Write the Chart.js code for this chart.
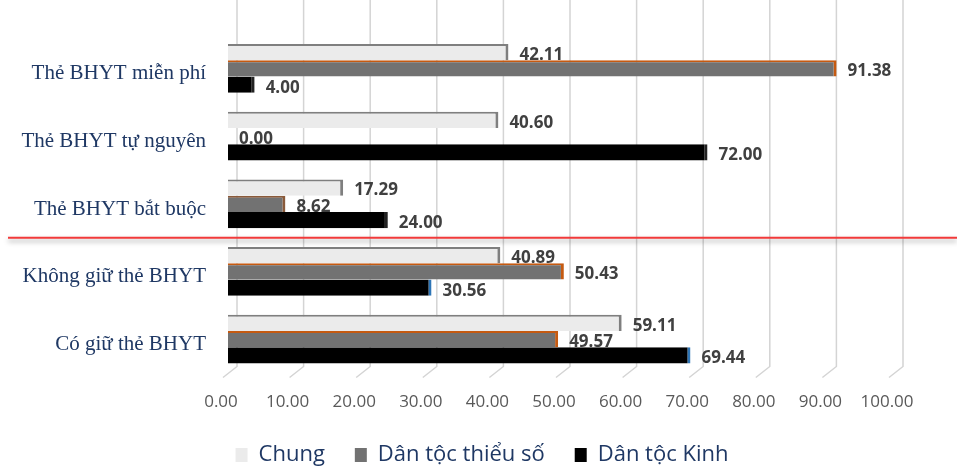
<!DOCTYPE html>
<html><head><meta charset="utf-8">
<script src="https://cdn.jsdelivr.net/npm/chart.js@4.4.0/dist/chart.umd.min.js"></script>
<style>html,body{margin:0;padding:0;background:#fff;}#wrap{width:957px;height:467px;position:relative}</style>
</head><body><div id="wrap"><canvas id="c" width="957" height="467"></canvas></div>
<script>
// ---- data ----
const categories = ["Thẻ BHYT miễn phí", "Thẻ BHYT tự nguyên", "Thẻ BHYT bắt buộc", "Không giữ thẻ BHYT", "Có giữ thẻ BHYT"];
const seriesNames = ["Chung", "Dân tộc thiểu số", "Dân tộc Kinh"];
const chung   = [42.11, 40.60, 17.29, 40.89, 59.11];
const thieuSo = [91.38, 0.00, 8.62, 50.43, 49.57];
const kinh    = [4.00, 72.00, 24.00, 30.56, 69.44];
const xTicks  = [0, 10, 20, 30, 40, 50, 60, 70, 80, 90, 100];

// ---- styles ----
const fillColors = ["#ebebeb", "#727272", "#000000"];
const thieuSoEdge = ["#c55a11", "#5a5a5a", "#8a5a3a", "#c55a11", "#c55a11"];
const kinhEdge = ["#222222", "#222222", "#222222", "#2e75b6", "#2e75b6"];
const navy = "#1f3864";

const gridPlugin = {
  id: 'grid3d',
  beforeDatasetsDraw(chart) {
    const {ctx, chartArea, scales} = chart;
    ctx.save();
    ctx.strokeStyle = '#d4d4d4';
    ctx.lineWidth = 1.5;
    xTicks.forEach(v => {
      const px = scales.x.getPixelForValue(v) + 9;
      const yb = chartArea.bottom - 6.5;
      ctx.beginPath();
      ctx.moveTo(px, 0);
      ctx.lineTo(px, yb);
      ctx.lineTo(px - 14, yb + 11);
      ctx.stroke();
    });
    ctx.restore();
  }
};

const labelPlugin = {
  id: 'valueLabels',
  afterDatasetsDraw(chart) {
    const {ctx} = chart;
    ctx.save();
    ctx.font = 'bold 17px "Open Sans"';
    ctx.fillStyle = '#404040';
    ctx.textAlign = 'left';
    ctx.textBaseline = 'middle';
    chart.data.datasets.forEach((ds, di) => {
      const meta = chart.getDatasetMeta(di);
      meta.data.forEach((el, i) => {
        ctx.fillText(ds.data[i].toFixed(2), el.x + 11, el.y + 3);
      });
    });
    ctx.restore();
  }
};

const redLinePlugin = {
  id: 'redLine',
  afterDraw(chart) {
    const {ctx, scales} = chart;
    const y = (scales.y.getPixelForValue(2) + scales.y.getPixelForValue(3)) / 2;
    ctx.save();
    ctx.shadowColor = 'rgba(0,0,0,0.35)';
    ctx.shadowBlur = 5;
    ctx.shadowOffsetY = 3;
    ctx.strokeStyle = '#f23a3a';
    ctx.lineWidth = 2;
    ctx.beginPath();
    ctx.moveTo(8, y);
    ctx.lineTo(957, y);
    ctx.stroke();
    ctx.restore();
  }
};

new Chart(document.getElementById('c'), {
  type: 'bar',
  data: {
    labels: categories,
    datasets: [
      { label: seriesNames[0], data: chung, backgroundColor: fillColors[0],
        borderColor: '#7f7f7f', borderWidth: {top: 2, right: 3, bottom: 0, left: 0}, borderSkipped: false },
      { label: seriesNames[1], data: thieuSo, backgroundColor: fillColors[1],
        borderColor: thieuSoEdge, borderWidth: {top: 2, right: 3, bottom: 0, left: 0}, borderSkipped: false },
      { label: seriesNames[2], data: kinh, backgroundColor: fillColors[2],
        borderColor: kinhEdge, borderWidth: {top: 0, right: 3, bottom: 0, left: 0}, borderSkipped: false }
    ]
  },
  options: {
    indexAxis: 'y',
    responsive: false,
    animation: false,
    devicePixelRatio: 1,
    layout: { padding: { top: 33, right: 0, bottom: -9, left: 7 } },
    datasets: { bar: { categoryPercentage: 0.72, barPercentage: 1.0 } },
    scales: {
      x: {
        min: 0, max: 100,
        grid: { display: false, drawTicks: false },
        border: { display: false },
        ticks: {
          stepSize: 10, maxRotation: 0, autoSkip: false,
          callback: v => Number(v).toFixed(2),
          color: '#595959', font: { family: 'Open Sans', size: 17 },
          padding: 19, labelOffset: -7
        },
        afterFit(s) { s.height = 41; }
      },
      y: {
        grid: { display: false, drawTicks: false },
        border: { display: false },
        ticks: {
          color: navy, font: { family: '"Liberation Serif", "Times New Roman", serif', size: 21 },
          padding: 22, labelOffset: 5.5
        },
        afterFit(s) { s.width = 221; }
      },
      yRight: {
        type: 'category',
        position: 'right',
        grid: { display: false, drawTicks: false },
        border: { display: false },
        ticks: { display: false },
        afterFit(s) { s.width = 63; }
      }
    },
    plugins: {
      tooltip: { enabled: false },
      legend: {
        position: 'bottom',
        labels: {
          boxWidth: 12, boxHeight: 14, padding: 30,
          color: navy, font: { family: 'Open Sans', size: 22 },
          generateLabels: chart => chart.data.datasets.map((ds, i) => ({
            text: ds.label, fillStyle: fillColors[i], strokeStyle: fillColors[i],
            lineWidth: 0, hidden: false, datasetIndex: i, fontColor: navy
          }))
        }
      }
    }
  },
  plugins: [gridPlugin, labelPlugin, redLinePlugin]
});
</script>
</body></html>
